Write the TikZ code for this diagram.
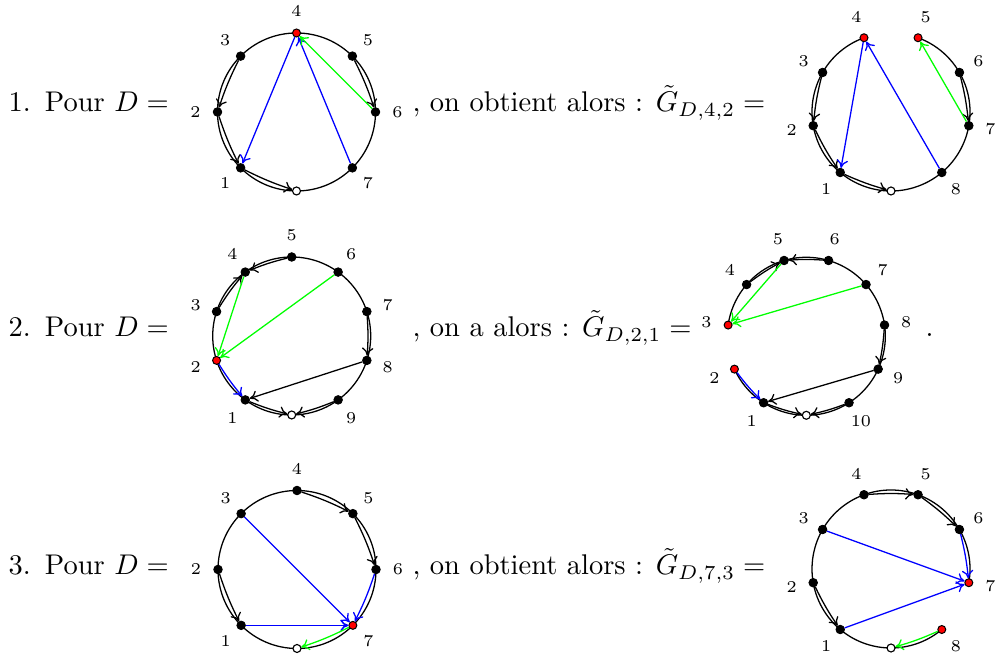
\documentclass[tikz,border=0pt]{standalone}
\usetikzlibrary{calc,arrows.meta}
\tikzset{
  pt/.style={circle, fill=black, draw=black, line width=0.3pt, inner sep=0pt, minimum size=3pt},
  redpt/.style={circle, fill=red, draw=black, line width=0.35pt, inner sep=0pt, minimum size=2.8pt},
  rootpt/.style={circle, fill=white, draw=black, line width=0.4pt, inner sep=0pt, minimum size=2.8pt},
  lbl/.style={font=\fontsize{5.8}{6}\selectfont, inner sep=0pt},
  arr/.style={-{To[length=2.8pt,width=4pt]}, line width=0.45pt},
  ccw/.style={arr, bend right=4},
  cwd/.style={arr, bend left=4},
  rim/.style={line width=0.45pt},
  txt/.style={anchor=base west, inner sep=0pt},
}
% #1 prefix, #2 cx, #3 cy, #4 number of positions (incl. root), #5 list k/style
\newcommand\mkpts[5]{%
  \foreach \k/\st in {#5} {
    \pgfmathsetmacro\ang{270-\k*360/#4}
    \node[\st] (#1\k) at ($(#2,#3)+(\ang:79)$) {};
  }
}
% #1 prefix, #2 cx, #3 cy, #4 number of positions, #5 last label
\newcommand\mklbls[5]{%
  \foreach \k in {1,...,#5} {
    \pgfmathsetmacro\ang{270-\k*360/#4}
    \node[lbl] (#1l\k) at ($(#2,#3)+(\ang:101)$) {\k};
  }
}
\begin{document}
\begin{tikzpicture}[x=0.351pt, y=0.351pt]
\useasboundingbox (0,0) rectangle (1008,657);

% ---------- Row 1 ----------
\node[txt] (t1) at (8,545) {1.\enspace Pour $D =$};
\node[txt] (t2) at (412,545) {, on obtient alors : $\tilde{G}_{D,4,2} =$};

% Diagram A
\draw[rim] (296.5,545) circle[radius=79];
\mkpts{a}{296.5}{545}{8}{0/rootpt,1/pt,2/pt,3/pt,4/redpt,5/pt,6/pt,7/pt}
\mklbls{a}{296.5}{545}{8}{7}
\draw[ccw] (a3) to (a2);
\draw[ccw] (a2) to (a1);
\draw[ccw] (a1) to (a0);
\draw[cwd] (a5) to (a6);
\draw[arr, blue] (a4) -- (a1);
\draw[arr, blue] (a7) -- (a4);
\draw[arr, green] (a6) -- (a4);

% Diagram B
\draw[rim] ($(891,545)+(110:79)$) arc[start angle=110, end angle=430, radius=79];
\mkpts{b}{891}{545}{9}{0/rootpt,1/pt,2/pt,3/pt,4/redpt,5/redpt,6/pt,7/pt,8/pt}
\mklbls{b}{891}{545}{9}{8}
\draw[ccw] (b3) to (b2);
\draw[ccw] (b2) to (b1);
\draw[ccw] (b1) to (b0);
\draw[cwd] (b6) to (b7);
\draw[arr, blue] (b4) -- (b1);
\draw[arr, blue] (b8) -- (b4);
\draw[arr, green] (b7) -- (b5);

% ---------- Row 2 ----------
\node[txt] (t3) at (8,320) {2.\enspace Pour $D =$};
\node[txt] (t4) at (412,320) {, on a alors : $\tilde{G}_{D,2,1} =$};
\node[txt] (t5) at (925,320) {.};

% Diagram C
\draw[rim] (291.7,321) circle[radius=79];
\mkpts{c}{291.7}{321}{10}{0/rootpt,1/pt,2/redpt,3/pt,4/pt,5/pt,6/pt,7/pt,8/pt,9/pt}
\mklbls{c}{291.7}{321}{10}{9}
\draw[cwd] (c3) to (c4);
\draw[ccw] (c5) to (c4);
\draw[arr, green] (c4) -- (c2);
\draw[arr, green] (c6) -- (c2);
\draw[cwd] (c7) to (c8);
\draw[arr] (c8) -- (c1);
\draw[ccw, blue] (c2) to (c1);
\draw[ccw] (c1) to (c0);
\draw[cwd] (c9) to (c0);

% Diagram D
\draw[rim] ($(806.3,320.7)+(204.545:79)$) arc[start angle=204.545, end angle=531.818, radius=79];
\mkpts{d}{806.3}{320.7}{11}{0/rootpt,1/pt,2/redpt,3/redpt,4/pt,5/pt,6/pt,7/pt,8/pt,9/pt,10/pt}
\mklbls{d}{806.3}{320.7}{11}{10}
\draw[cwd] (d4) to (d5);
\draw[ccw] (d6) to (d5);
\draw[arr, green] (d5) -- (d3);
\draw[arr, green] (d7) -- (d3);
\draw[cwd] (d8) to (d9);
\draw[arr] (d9) -- (d1);
\draw[ccw, blue] (d2) to (d1);
\draw[ccw] (d1) to (d0);
\draw[cwd] (d10) to (d0);

% ---------- Row 3 ----------
\node[txt] (t6) at (8,82) {3.\enspace Pour $D =$};
\node[txt] (t7) at (412,82) {, on obtient alors : $\tilde{G}_{D,7,3} =$};

% Diagram E
\draw[rim] (297,87.5) circle[radius=79];
\mkpts{e}{297}{87.5}{8}{0/rootpt,1/pt,2/pt,3/pt,4/pt,5/pt,6/pt,7/redpt}
\mklbls{e}{297}{87.5}{8}{7}
\draw[cwd] (e4) to (e5);
\draw[cwd] (e5) to (e6);
\draw[cwd, blue] (e6) to (e7);
\draw[arr, blue] (e3) -- (e7);
\draw[arr, blue, line width=0.55pt] (e1) -- (e7);
\draw[ccw] (e2) to (e1);
\draw[cwd, green] (e7) to (e0);

% Diagram F
\draw[rim] ($(891,88)+(-10:79)$) arc[start angle=-10, end angle=310, radius=79];
\mkpts{f}{891}{88}{9}{0/rootpt,1/pt,2/pt,3/pt,4/pt,5/pt,6/pt,7/redpt,8/redpt}
\mklbls{f}{891}{88}{9}{8}
\draw[cwd] (f4) to (f5);
\draw[cwd] (f5) to (f6);
\draw[cwd, blue] (f6) to (f7);
\draw[arr, blue] (f3) -- (f7);
\draw[arr, blue] (f1) -- (f7);
\draw[ccw] (f2) to (f1);
\draw[cwd, green] (f8) to (f0);
\end{tikzpicture}
\end{document}
